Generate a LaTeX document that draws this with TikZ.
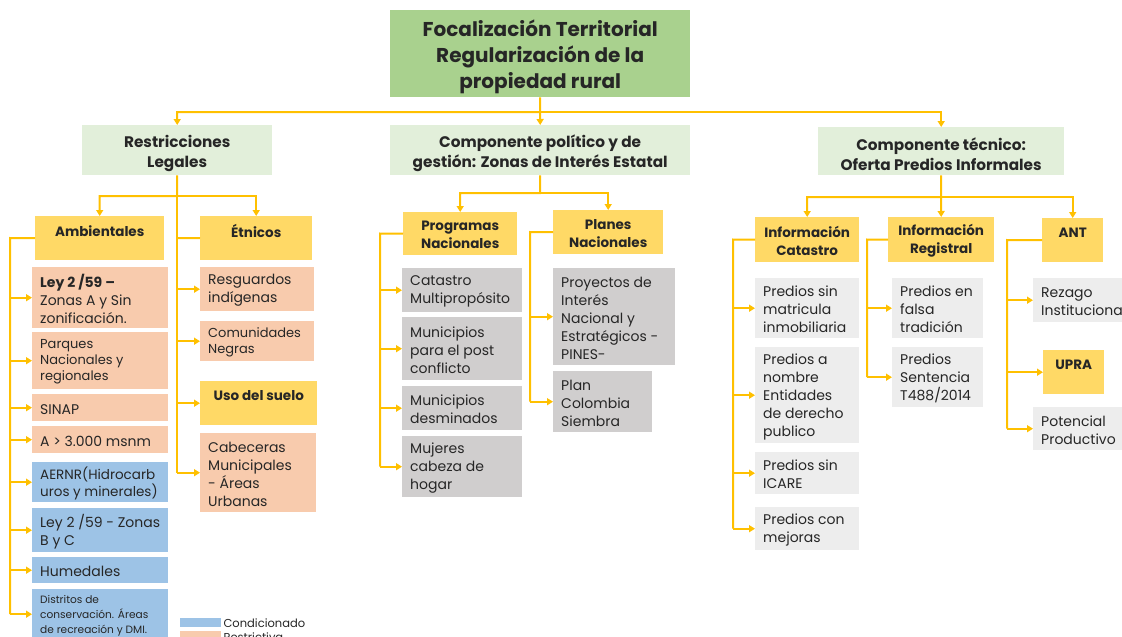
\documentclass[tikz,border=0pt]{standalone}
\usepackage{fontspec}
\setmainfont{Poppins}
\usetikzlibrary{arrows.meta}
\definecolor{topgreen}{HTML}{A9D18E}
\definecolor{lgreen}{HTML}{E2EFDA}
\definecolor{yel}{HTML}{FFD966}
\definecolor{salmon}{HTML}{F8CBAD}
\definecolor{bluec}{HTML}{9DC3E6}
\definecolor{grayc}{HTML}{D0CECE}
\definecolor{lgray}{HTML}{EDEDED}
\definecolor{linec}{HTML}{FFC000}
\definecolor{txt}{HTML}{262626}
% left-aligned cell: style, name, x, y, w, h, fill, text
\newcommand\lcell[8]{%
  \node[boxst, fill=#7, minimum width=#5pt, minimum height=#6pt, anchor=north west] (#2) at (#3,#4) {};
  \node[#1, anchor=west] (#2t) at ([xshift=8pt]#2.west) {#8};}
% centred cell
\newcommand\ccell[8]{%
  \node[boxst, fill=#7, minimum width=#5pt, minimum height=#6pt, anchor=north west] (#2) at (#3,#4) {};
  \node[#1, anchor=center] (#2t) at (#2.center) {#8};}
\tikzset{
  boxst/.style={draw=none, inner sep=0pt},
  txtbase/.style={inner sep=0pt, text=txt, yshift=-1.5pt},
  body/.style={txtbase, align=left, font=\fontsize{14}{18}\selectfont},
  smallbody/.style={txtbase, align=left, font=\fontsize{13}{16}\selectfont},
  midbody/.style={txtbase, align=left, font=\fontsize{13.5}{17}\selectfont},
  tinybody/.style={txtbase, align=left, font=\fontsize{10.6}{15}\selectfont},
  head/.style={txtbase, align=center, font=\bfseries\fontsize{13.5}{18}\selectfont},
  lvlone/.style={txtbase, yshift=-1.5pt, align=center, font=\bfseries\fontsize{15.3}{20}\selectfont},
  titlest/.style={txtbase, yshift=-1.5pt, align=center, font=\bfseries\fontsize{20}{26}\selectfont},
  ln/.style={draw=linec, line width=2pt},
  arr/.style={draw=linec, line width=2pt, -{Triangle[width=7pt,length=6pt]}},
  legtext/.style={inner sep=0pt, anchor=west, text=txt, font=\fontsize{11.5}{13}\selectfont},
}
\begin{document}
\begin{tikzpicture}[x=1pt,y=-1pt]
\path[use as bounding box] (0,0) rectangle (1122,637);
\clip (0,0) rectangle (1122,637);
\fill[white] (0,0) rectangle (1122,637);
% top
\ccell{titlest}{top}{390}{10}{300}{87}{topgreen}{Focalización Territorial\\Regularización de la\\propiedad rural}
% level 1
\ccell{lvlone}{rl}{82}{125}{190}{50}{lgreen}{Restricciones\\Legales}
\ccell{lvlone}{cp}{390}{125}{300}{50}{lgreen}{Componente político y de\\gestión: Zonas de Interés Estatal}
\ccell{lvlone}{ct}{818}{127}{246}{48}{lgreen}{Componente técnico:\\Oferta Predios Informales}
% level 2
\ccell{head}{amb}{35}{216}{129}{44}{yel}{Ambientales\\\mbox{}}
\ccell{head}{etn}{200}{216}{112}{44}{yel}{Étnicos\\\mbox{}}
\ccell{head}{prog}{403}{212}{114}{43}{yel}{Programas\\Nacionales}
\ccell{head}{plan}{553}{210}{110}{44}{yel}{Planes\\Nacionales}
\ccell{head}{icat}{755}{217}{104}{45}{yel}{Información\\Catastro}
\ccell{head}{ireg}{888}{217}{106}{45}{yel}{Información\\Registral}
\ccell{head}{ant}{1042}{218}{61}{44}{yel}{ANT\\\mbox{}}
% ambientales
\lcell{body}{a1}{32}{267}{136}{61}{salmon}{\textbf{Ley 2 /59 –}\\Zonas A y Sin\\zonificación.}
\lcell{smallbody}{a2}{32}{332}{136}{57}{salmon}{Parques\\Nacionales y\\regionales}
\lcell{body}{a3}{32}{394}{136}{27}{salmon}{SINAP}
\lcell{body}{a4}{32}{426}{136}{27}{salmon}{A > 3.000 msnm}
\lcell{midbody}{a5}{32}{462}{136}{40}{bluec}{AERNR(Hidrocarb\\uros y minerales)}
\lcell{body}{a6}{32}{508}{136}{44}{bluec}{Ley 2 /59 - Zonas\\B y C}
\lcell{body}{a7}{32}{557}{136}{26}{bluec}{Humedales}
\lcell{tinybody}{a8}{32}{589}{136}{50}{bluec}{Distritos de\\conservación. Áreas\\de recreación y DMI.}
% etnicos
\lcell{body}{e1}{200}{267}{114}{44}{salmon}{Resguardos\\indígenas}
\lcell{smallbody}{e2}{200}{321}{114}{40}{salmon}{Comunidades\\Negras}
\ccell{head}{uso}{200}{381}{117}{44}{yel}{Uso del suelo\\\mbox{}}
\lcell{body}{e4}{200}{433}{116}{79}{salmon}{Cabeceras\\Municipales\\- Áreas\\Urbanas}
% programas
\lcell{body}{p1}{402}{268}{120}{44}{grayc}{Catastro\\Multipropósito}
\lcell{body}{p2}{402}{317}{120}{63}{grayc}{Municipios\\para el post\\conflicto}
\lcell{body}{p3}{402}{386}{120}{44}{grayc}{Municipios\\desminados}
\lcell{body}{p4}{402}{436}{120}{61}{grayc}{Mujeres\\cabeza de\\hogar}
% planes
\lcell{body}{q1}{553}{268}{122}{97}{grayc}{Proyectos de\\Interés\\Nacional y\\Estratégicos -\\PINES-}
\lcell{body}{q2}{553}{371}{99}{61}{grayc}{Plan\\Colombia\\Siembra}
% catastro
\lcell{body}{c1}{755}{278}{104}{60}{lgray}{Predios sin\\matricula\\inmobiliaria}
\lcell{body}{c2}{755}{347}{104}{96}{lgray}{Predios a\\nombre\\Entidades\\de derecho\\publico}
\lcell{body}{c3}{755}{452}{104}{42}{lgray}{Predios sin\\ICARE}
\lcell{body}{c4}{755}{507}{104}{43}{lgray}{Predios con\\mejoras}
% registral
\lcell{body}{r1}{892}{278}{91}{60}{lgray}{Predios en\\falsa\\tradición}
\lcell{body}{r2}{892}{347}{91}{60}{lgray}{Predios\\Sentencia\\T488/2014}
% ANT
\lcell{body}{n1}{1033}{278}{100}{44}{lgray}{Rezago\\Institucional}
\ccell{head}{upra}{1043}{350}{61}{44}{yel}{UPRA\\\mbox{}}
\lcell{body}{n2}{1033}{407}{100}{43}{lgray}{Potencial\\Productivo}
% legend
\node[boxst, fill=bluec, minimum width=41pt, minimum height=9pt, anchor=north west] (lg1) at (180,618) {};
\node[boxst, fill=salmon, minimum width=41pt, minimum height=9pt, anchor=north west] (lg2) at (180,631) {};
\node[legtext] (lt1) at ([xshift=2pt]lg1.east) {Condicionado};
\node[legtext] (lt2) at ([xshift=2pt,yshift=-1pt]lg2.east) {Restrictiva};
% connectors top
\coordinate (j0) at (540,112);
\draw[arr] (top.south) -- (j0) -| (rl.north);
\draw[arr] (j0) -| (ct.north);
\draw[arr] (j0) -- (cp.north);
% restricciones
\coordinate (j1) at (177,196);
\draw[arr] (rl.south) -- (j1) -| (amb.north);
\draw[arr] (j1) -| (etn.north);
\coordinate (aL) at (10,238);
\draw[ln] (amb.west) -- (aL) -- (aL |- a8.west);
\foreach \c in {a1,a2,a3,a4,a5,a6,a7,a8} \draw[arr] (aL |- \c.west) -- (\c.west);
\coordinate (eL) at (177,238);
\draw[ln] (j1) -- (eL) -- (eL |- e4.west);
\draw[ln] (etn.west) -- (eL);
\foreach \c in {e1,e2,uso,e4} \draw[arr] (eL |- \c.west) -- (\c.west);
% politico
\coordinate (j2) at (540,193);
\draw[arr] (cp.south) -- (j2) -| (prog.north);
\draw[arr] (j2) -| (plan.north);
\coordinate (pL) at (380,233.5);
\draw[ln] (prog.west) -- (pL) -- (pL |- p4.west);
\foreach \c in {p1,p2,p3,p4} \draw[arr] (pL |- \c.west) -- (\c.west);
\coordinate (qL) at (530,232);
\draw[ln] (plan.west) -- (qL) -- (qL |- q2.west);
\foreach \c in {q1,q2} \draw[arr] (qL |- \c.west) -- (\c.west);
% tecnico
\coordinate (j3) at (941,197);
\draw[arr] (ct.south) -- (j3) -| (icat.north);
\draw[arr] (j3) -| (ant.north);
\draw[arr] (j3) -- (ireg.north);
\coordinate (cL) at (733,239.5);
\draw[ln] (icat.west) -- (cL) -- (cL |- c4.west);
\foreach \c in {c1,c2,c3,c4} \draw[arr] (cL |- \c.west) -- (\c.west);
\coordinate (rL) at (867,239.5);
\draw[ln] (ireg.west) -- (rL) -- (rL |- r2.west);
\foreach \c in {r1,r2} \draw[arr] (rL |- \c.west) -- (\c.west);
\coordinate (nL) at (1007,240);
\draw[ln] (ant.west) -- (nL) -- (nL |- n2.west);
\foreach \c in {n1,upra,n2} \draw[arr] (nL |- \c.west) -- (\c.west);
\end{tikzpicture}
\end{document}
